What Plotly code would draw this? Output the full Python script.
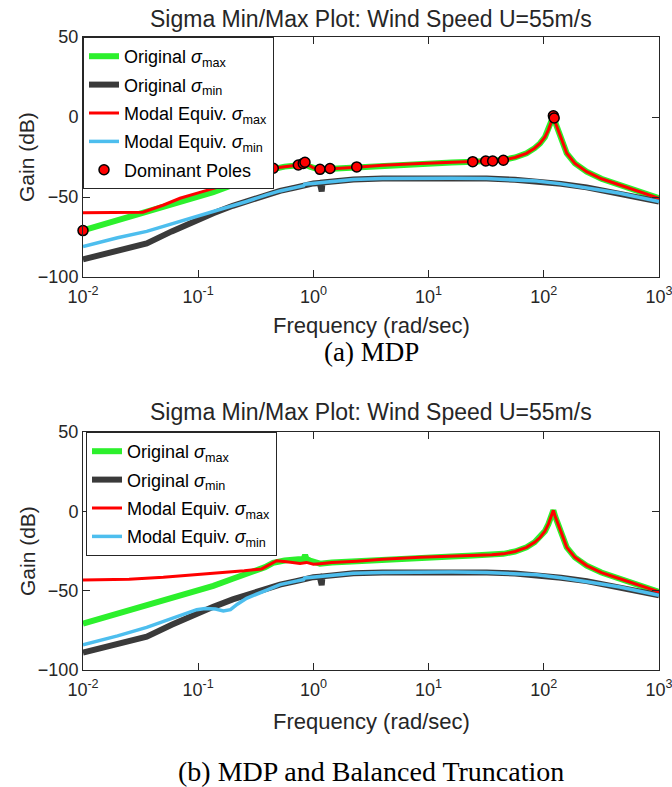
import plotly.graph_objects as go

W, H = 672, 787

# ---- common high-frequency parts (log10 rad/s, dB) ----
hf_max_logw = [0.16, 0.376, 0.6, 0.925, 1.2, 1.388, 1.55, 1.649, 1.75, 1.85, 1.92, 1.967,
               2.01, 2.04, 2.065, 2.083, 2.1, 2.126, 2.16, 2.199, 2.27, 2.372, 2.5, 2.66, 2.83, 3.0]
hf_max_db = [-32.3, -31.4, -30.2, -29.0, -28.4, -27.9, -27.3, -26.8, -25.3, -22.7, -19.5, -16.5,
             -12.5, -8.0, -3.5, 0.6, -3.5, -8.0, -15.0, -22.7, -29.0, -34.2, -38.6, -42.5, -46.7, -50.8]

hf_min_logw = [0.347, 0.6, 0.925, 1.2, 1.504, 1.75, 1.938, 2.15, 2.372, 2.5, 2.66, 2.83, 3.0]
hf_min_db = [-39.0, -38.5, -38.3, -38.3, -38.5, -39.2, -40.0, -41.8, -44.0, -45.8, -47.7, -50.2, -52.9]

# ---- original system ----
orig_max_logw = [-2.0, -1.7, -1.5, -1.3, -1.0, -0.869, -0.7, -0.5, -0.42, -0.35, -0.25, -0.13,
                 -0.085, -0.072, -0.06, -0.03, 0.0, 0.057] + hf_max_logw
orig_max_db = [-70.8, -64.5, -60.5, -56.5, -49.8, -47.0, -42.5, -37.5, -35.2, -32.5, -31.0, -30.2,
               -30.0, -27.5, -30.0, -31.0, -31.8, -33.0] + hf_max_db

orig_min_logw = [-2.0, -1.7, -1.447, -1.23, -1.013, -0.869, -0.7, -0.58, -0.4, -0.29, -0.15, -0.085,
                 -0.075, 0.0, 0.055, 0.062, 0.072, 0.079, 0.2] + hf_min_logw
orig_min_db = [-89.0, -84.0, -79.0, -71.5, -64.4, -60.2, -55.5, -52.5, -48.5, -46.2, -44.0, -43.0,
               -42.0, -41.5, -41.2, -46.5, -46.5, -41.0, -40.0] + hf_min_db

# ---- (a) MDP modal equivalent ----
mdp_max_logw = [-2.0, -1.75, -1.48, -1.3, -1.158, -1.0, -0.869, -0.75, -0.637, -0.5, -0.42, -0.348,
                -0.25, -0.131, -0.073, -0.03, 0.0, 0.057] + hf_max_logw
mdp_max_db = [-59.8, -59.8, -59.5, -55.0, -50.8, -47.4, -44.6, -42.0, -39.4, -36.5, -35.2, -32.0,
              -31.0, -30.0, -28.8, -30.5, -31.8, -33.0] + hf_max_db

mdp_min_logw = [-2.0, -1.7, -1.447, -1.2, -1.013, -0.869, -0.7, -0.58, -0.4, -0.29, -0.15, -0.085,
                -0.075, 0.0, 0.2] + hf_min_logw
mdp_min_db = [-81.0, -75.5, -71.5, -66.2, -62.3, -59.0, -55.5, -52.8, -48.5, -46.2, -44.0, -43.0,
              -42.0, -41.5, -40.0] + hf_min_db

pole_logw = [-2.0, -0.435, -0.348, -0.131, -0.088, -0.073, 0.057, 0.144, 0.376,
             1.383, 1.496, 1.556, 1.649, 2.083, 2.09]
pole_db = [-71.0, -35.2, -32.0, -30.0, -29.0, -28.3, -32.7, -32.2, -31.2,
           -27.9, -27.5, -27.5, -27.0, 0.8, -0.6]

# ---- (b) MDP + balanced truncation ----
bt_max_logw = [-2.0, -1.6, -1.303, -1.0, -0.869, -0.6, -0.449, -0.38, -0.319, -0.232, -0.116,
               -0.06, 0.0, 0.057] + hf_max_logw
bt_max_db = [-43.3, -42.8, -41.6, -40.0, -39.1, -37.5, -36.3, -33.5, -31.1, -31.8, -32.8,
             -32.2, -33.3, -33.0] + hf_max_db

bt_min_logw = [-2.0, -1.7, -1.447, -1.2, -1.013, -0.94, -0.85, -0.782, -0.72, -0.66, -0.58, -0.405,
               -0.29, -0.15, -0.085, -0.075, 0.0, 0.2] + hf_min_logw
bt_min_db = [-84.2, -78.5, -73.1, -66.8, -62.0, -61.2, -61.6, -62.8, -62.0, -58.5, -54.8, -49.6,
             -46.2, -44.0, -43.0, -42.0, -41.5, -40.0] + hf_min_db

major_ticks = [1e-2, 1e-1, 1e0, 1e1, 1e2, 1e3]
major_text = ["10<sup>-2</sup>", "10<sup>-1</sup>", "10<sup>0</sup>",
              "10<sup>1</sup>", "10<sup>2</sup>", "10<sup>3</sup>"]
minor_ticks = [m * d for d in [1e-2, 1e-1, 1e0, 1e1, 1e2] for m in range(2, 10)]
y_ticks = [-100, -50, 0, 50]

title_text = "Sigma Min/Max Plot: Wind Speed U=55m/s"
lbl_max = "<i>σ</i><sub>max</sub>"
lbl_min = "<i>σ</i><sub>min</sub>"

GREEN, BLACK, RED, BLUE = "#2cf02c", "#3a3a3a", "#ff0000", "#4dbeee"
AX = "#262626"
SANS = "Liberation Sans, Arial, sans-serif"
SERIF = "Liberation Serif, Times New Roman, serif"


def w(logs):
    return [10 ** v for v in logs]


fig = go.Figure()


def add_panel(xa, ya, leg, mx_l, mx_d, mn_l, mn_d, poles):
    fig.add_trace(go.Scatter(x=w(orig_max_logw), y=orig_max_db, mode="lines",
                             line=dict(color=GREEN, width=6), name="Original " + lbl_max,
                             xaxis=xa, yaxis=ya, legend=leg, legendgroup=leg + "a"))
    fig.add_trace(go.Scatter(x=w(orig_min_logw), y=orig_min_db, mode="lines",
                             line=dict(color=BLACK, width=6), name="Original " + lbl_min,
                             xaxis=xa, yaxis=ya, legend=leg, legendgroup=leg + "b"))
    fig.add_trace(go.Scatter(x=w(mx_l), y=mx_d, mode="lines",
                             line=dict(color=RED, width=3), name="Modal Equiv. " + lbl_max,
                             xaxis=xa, yaxis=ya, legend=leg, legendgroup=leg + "c"))
    fig.add_trace(go.Scatter(x=w(mn_l), y=mn_d, mode="lines",
                             line=dict(color=BLUE, width=3.5), name="Modal Equiv. " + lbl_min,
                             xaxis=xa, yaxis=ya, legend=leg, legendgroup=leg + "d"))
    if poles:
        fig.add_trace(go.Scatter(x=w(pole_logw), y=pole_db, mode="markers",
                                 marker=dict(color=RED, size=10, line=dict(color="black", width=1.5)),
                                 name="Dominant Poles", cliponaxis=False,
                                 xaxis=xa, yaxis=ya, legend=leg, legendgroup=leg + "e"))


add_panel("x", "y", "legend", mdp_max_logw, mdp_max_db, mdp_min_logw, mdp_min_db, True)
add_panel("x2", "y2", "legend2", bt_max_logw, bt_max_db, bt_min_logw, bt_min_db, False)

xdom = [83 / W, 659 / W]
ydom_top = [1 - 277 / H, 1 - 37 / H]
ydom_bot = [1 - 670 / H, 1 - 432 / H]

xaxis_common = dict(type="log", range=[-2, 3], domain=xdom, showline=True, linecolor=AX,
                    linewidth=1, mirror="ticks", ticks="inside", ticklen=7, tickcolor=AX,
                    tickvals=major_ticks, ticktext=major_text, showgrid=False, zeroline=False,
                    automargin=False, ticklabeloverflow="allow", ticklabelstandoff=3,
                    tickfont=dict(family=SANS, size=18, color=AX))
# minor decade ticks on a companion axis sharing the same scale
xminor_common = dict(type="log", range=[-2, 3], domain=xdom, showline=False, mirror="ticks",
                     ticks="inside", ticklen=5, tickwidth=1, tickcolor=AX, tickvals=minor_ticks,
                     showticklabels=False, showgrid=False, zeroline=False, automargin=False)
yaxis_common = dict(range=[-100, 50], showline=True, linecolor=AX, linewidth=1, mirror="ticks",
                    ticks="inside", ticklen=7, tickcolor=AX, tickvals=y_ticks, showgrid=False,
                    zeroline=False, automargin=False, tickfont=dict(family=SANS, size=18, color=AX))

legend_common = dict(xanchor="left", yanchor="top", bgcolor="white", bordercolor=AX,
                     borderwidth=1, font=dict(family=SANS, size=18, color="black"),
                     tracegroupgap=2, itemclick=False)

fig.update_layout(
    width=W, height=H, margin=dict(l=0, r=0, t=0, b=0, autoexpand=False),
    paper_bgcolor="white", plot_bgcolor="white",
    xaxis=dict(xaxis_common, anchor="y"),
    yaxis=dict(yaxis_common, domain=ydom_top, anchor="x"),
    xaxis2=dict(xaxis_common, anchor="y2"),
    yaxis2=dict(yaxis_common, domain=ydom_bot, anchor="x2"),
    xaxis3=dict(xminor_common, anchor="y", overlaying="x"),
    xaxis4=dict(xminor_common, anchor="y2", overlaying="x2"),
    legend=dict(legend_common, x=83 / W, y=1 - 37 / H),
    legend2=dict(legend_common, x=86 / W, y=1 - 432 / H),
    showlegend=True,
)

cx = (83 + 659) / 2 / W
texts = [
    (title_text, cx, 19, 23, SANS, 0),
    (title_text, cx, 412, 23, SANS, 0),
    ("Frequency (rad/sec)", cx, 325, 22, SANS, 0),
    ("Frequency (rad/sec)", cx, 721, 22, SANS, 0),
    ("Gain (dB)", 27 / W, 157, 21, SANS, -90),
    ("Gain (dB)", 27 / W, 551, 21, SANS, -90),
    ("(a) MDP", cx, 352, 27, SERIF, 0),
    ("(b) MDP and Balanced Truncation", cx, 771, 28, SERIF, 0),
]
for t, x, ypx, size, fam, ang in texts:
    fig.add_annotation(text=t, x=x, y=1 - ypx / H, xref="paper", yref="paper",
                       xanchor="center", yanchor="middle", showarrow=False, textangle=ang,
                       font=dict(family=fam, size=size, color="black" if fam == SERIF else AX))

fig.write_html("out.html")
